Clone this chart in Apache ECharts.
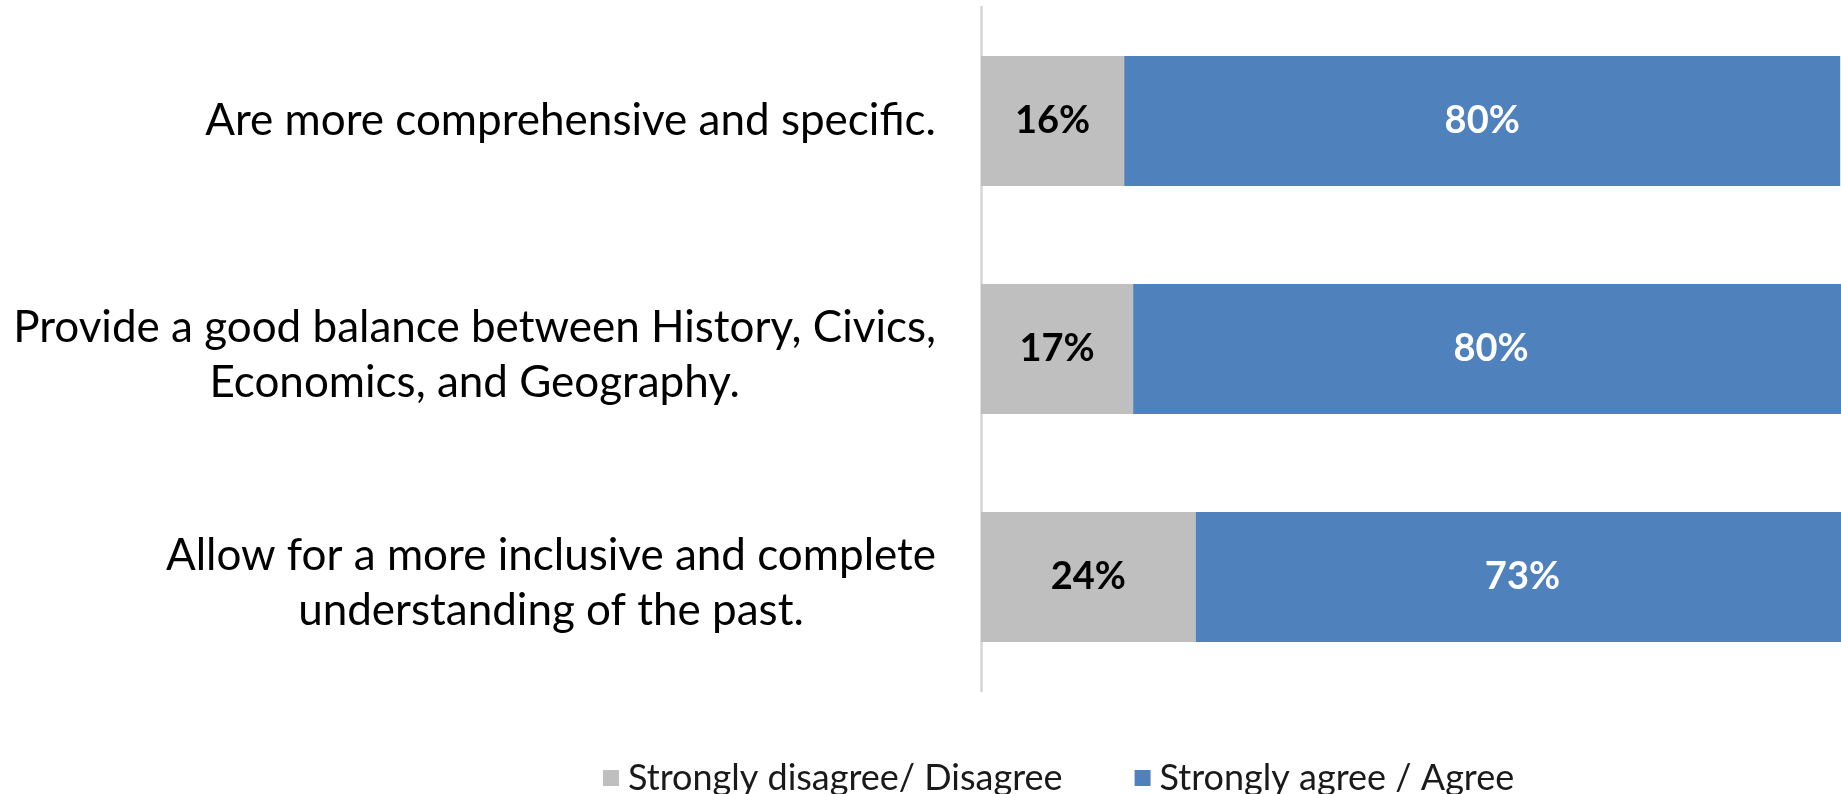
<!DOCTYPE html>
<html>
<head>
<meta charset="utf-8">
<script src="https://cdn.jsdelivr.net/npm/echarts@6/dist/echarts.min.js"></script>
<style>
html,body{margin:0;padding:0;background:#fff;}
#chart{width:1841px;height:794px;}
</style>
</head>
<body>
<div id="chart"></div>
<script>
const categories = [
  "Are more comprehensive and specific.",
  "Provide a good balance between History, Civics,\nEconomics, and Geography.",
  "Allow for a more inclusive and complete\nunderstanding of the past."
];
const seriesNames = ["Strongly disagree/ Disagree", "Strongly agree / Agree"];
const disagreeValues = [16, 17, 24];
const agreeValues = [80, 80, 73];

const FONT = "Lato";
const chart = echarts.init(document.getElementById('chart'), null, {renderer: 'canvas'});
chart.setOption({
  animation: false,
  backgroundColor: '#ffffff',
  grid: {left: 981, top: 7, height: 684, width: 895, containLabel: false, outerBoundsMode: 'none'},
  legend: {
    data: seriesNames,
    left: 598,
    top: 755,
    itemWidth: 16,
    itemHeight: 16,
    itemGap: 72,
    icon: 'rect',
    textStyle: {fontFamily: FONT, fontSize: 36, lineHeight: 36, color: '#1a1a1a', padding: [0, 0, 0, 4]}
  },
  xAxis: {type: 'value', min: 0, max: 100, show: false},
  yAxis: {
    type: 'category',
    inverse: true,
    data: categories,
    axisLine: {show: true, lineStyle: {color: '#d4d4d4', width: 2.5}},
    axisTick: {show: false},
    axisLabel: {
      margin: 45,
      formatter: function (v) {
        const lines = v.split('\n');
        const body = lines.map(function (s) { return '{c|' + s + '}'; }).join('\n');
        return lines.length > 1 ? '{s| }\n' + body : body;
      },
      rich: {
        c: {align: 'center', fontFamily: FONT, fontSize: 44, color: '#000', lineHeight: 55},
        s: {align: 'center', fontFamily: FONT, fontSize: 1, lineHeight: 12}
      }
    }
  },
  series: [
    {
      name: seriesNames[0], type: 'bar', stack: 'total', barWidth: 130,
      data: disagreeValues,
      itemStyle: {color: '#BFBFBF'},
      label: {show: true, position: 'inside', formatter: '{c}%', fontFamily: FONT, fontWeight: 'bold', fontSize: 38, color: '#000'}
    },
    {
      name: seriesNames[1], type: 'bar', stack: 'total', barWidth: 130,
      data: agreeValues,
      itemStyle: {color: '#4F81BD'},
      label: {show: true, position: 'inside', formatter: '{c}%', fontFamily: FONT, fontWeight: 'bold', fontSize: 38, color: '#fff'}
    }
  ]
});
</script>
</body>
</html>
